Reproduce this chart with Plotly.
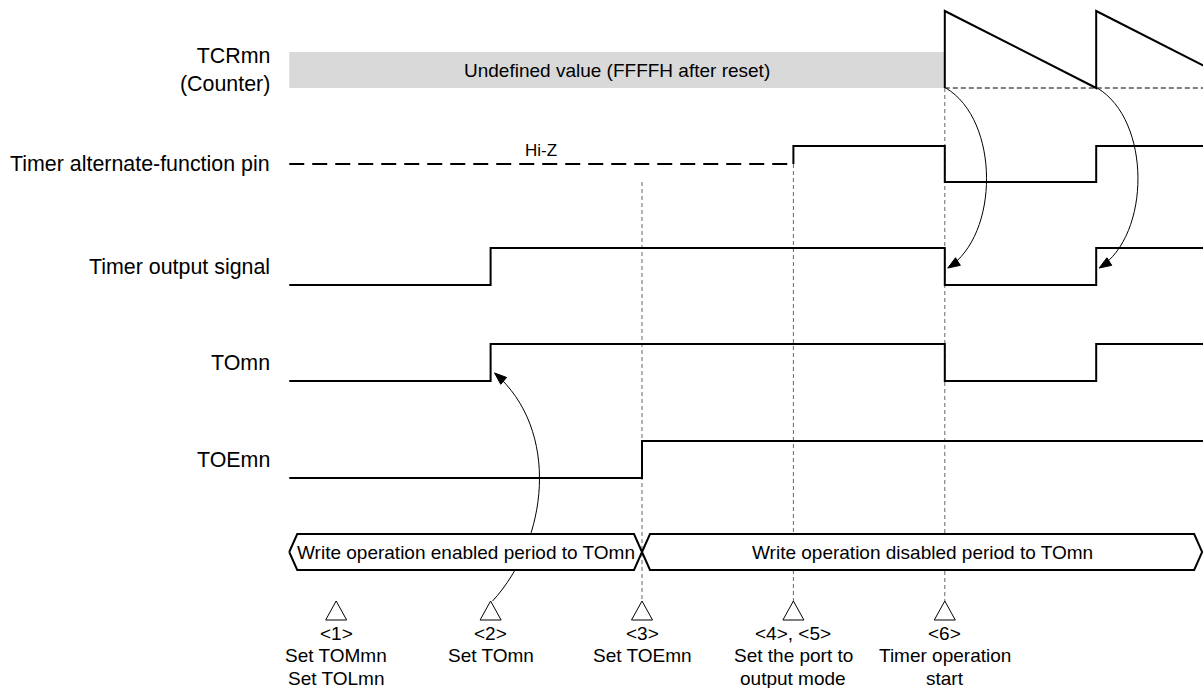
import plotly.graph_objects as go

# ---------------- data (time axis in event units) ----------------
T_START = 0.67          # left end of the diagram
T_STOP = 7.0            # signals keep running past the right edge
BUS_END = 6.70

event_t = [0.98, 2, 3, 4, 5]
event_tags = ["<1>", "<2>", "<3>", "<4>, <5>", "<6>"]
event_text = [["Set TOMmn", "Set TOLmn"], ["Set TOmn"], ["Set TOEmn"],
              ["Set the port to", "output mode"], ["Timer operation", "start"]]

signal_names = ["TCRmn<br>(Counter)", "Timer alternate-function pin",
                "Timer output signal", "TOmn", "TOEmn"]

counter_undefined_text = "Undefined value (FFFFH after reset)"
counter_start = 5
counter_t = [5, 5, 6, 6, 7]
counter_v = [0, 1, 0, 1, 0]          # normalised count value

altpin_t = [T_START, 4, 5, 6, T_STOP]
altpin_state = ["Z", "H", "L", "H", "H"]
hiz_text = "Hi-Z"

timer_out_t = [T_START, 2, 5, 6, T_STOP]
timer_out_v = [0, 1, 0, 1, 1]

tomn_t = [T_START, 2, 5, 6, T_STOP]
tomn_v = [0, 1, 0, 1, 1]

toemn_t = [T_START, 3, T_STOP]
toemn_v = [0, 1, 1]

bus_text = ["Write operation enabled period to TOmn",
            "Write operation disabled period to TOmn"]
bus_t = [T_START, 3, BUS_END]

guide_events = [3, 4, 5]
reload_events = [5, 6]

# ---------------- layout constants ----------------
W, H = 1203, 688
X0, X1 = -1.2404, 6.7054
S = W / (X1 - X0)                    # pixels per time unit


def dx(px):
    return px / S


FONT = "Liberation Sans, Arial, sans-serif"
FS = 19
CNT_TOP, CNT_BASE, BAND_TOP = 11, 88, 52
PIN_HI, PIN_LO, PIN_Z = 146, 182, 164
OUT_HI, OUT_LO = 248, 285
TOM_HI, TOM_LO = 344, 381
TOE_HI, TOE_LO = 441, 478
BUS_TOP, BUS_BOT = 534, 570
TRI_APEX, TRI_BASE = 601, 620
LABEL_Y0, LABEL_DY = 633, 22.5
LANE_MID = [(BAND_TOP + CNT_BASE) / 2, PIN_Z, (OUT_HI + OUT_LO) / 2,
            (TOM_HI + TOM_LO) / 2, (TOE_HI + TOE_LO) / 2]


def esc(s):
    return s.replace("<", "&lt;").replace(">", "&gt;")


fig = go.Figure()
shapes = []
annotations = []
BLK = dict(color="black", width=2)

# counter: undefined band + sawtooth + baseline
shapes.append(dict(type="rect", xref="x", yref="y", x0=T_START, x1=counter_start,
                   y0=BAND_TOP, y1=CNT_BASE, fillcolor="#d9d9d9",
                   line=dict(width=0), layer="below"))
shapes.append(dict(type="line", xref="x", yref="y", x0=counter_start, x1=T_STOP,
                   y0=CNT_BASE, y1=CNT_BASE,
                   line=dict(color="black", width=1, dash="5px,3px"), layer="below"))
annotations.append(dict(x=(T_START + counter_start) / 2, y=LANE_MID[0], xref="x", yref="y",
                        text=counter_undefined_text, showarrow=False,
                        font=dict(family=FONT, size=FS, color="black")))
fig.add_trace(go.Scatter(x=counter_t,
                         y=[CNT_BASE - v * (CNT_BASE - CNT_TOP) for v in counter_v],
                         mode="lines", line=BLK, hoverinfo="skip"))

# alternate-function pin
lvl = {"H": PIN_HI, "L": PIN_LO, "Z": PIN_Z}
z_end = altpin_t[1]
fig.add_trace(go.Scatter(x=[altpin_t[0], z_end], y=[PIN_Z, PIN_Z], mode="lines",
                         line=dict(color="black", width=2, dash="15px,8px"), hoverinfo="skip"))
fig.add_trace(go.Scatter(x=[z_end] + altpin_t[1:],
                         y=[PIN_Z] + [lvl[s] for s in altpin_state[1:]],
                         mode="lines", line=BLK, line_shape="hv", hoverinfo="skip"))
annotations.append(dict(x=(altpin_t[0] + z_end) / 2, y=PIN_HI + 4, xref="x", yref="y",
                        text=hiz_text, showarrow=False,
                        font=dict(family=FONT, size=17, color="black")))

# digital signals
for ts, vs, hi, lo in [(timer_out_t, timer_out_v, OUT_HI, OUT_LO),
                       (tomn_t, tomn_v, TOM_HI, TOM_LO),
                       (toemn_t, toemn_v, TOE_HI, TOE_LO)]:
    fig.add_trace(go.Scatter(x=ts, y=[lo - v * (lo - hi) for v in vs], mode="lines",
                             line=BLK, line_shape="hv", hoverinfo="skip"))

# guide lines
guide_top = {3: PIN_LO, 4: PIN_Z, 5: CNT_BASE}
for t in guide_events:
    shapes.append(dict(type="line", xref="x", yref="y", x0=t, x1=t,
                       y0=guide_top[t], y1=TRI_APEX,
                       line=dict(color="#666666", width=1, dash="4px,3px"), layer="below"))


# curved arrows
def curve(t, p):
    pts = [(t + dx(a), b) for a, b in p]
    d = "M {},{} C {},{} {},{} {},{}".format(*[c for pt in pts for c in pt])
    shapes.append(dict(type="path", xref="x", yref="y", path=d,
                       line=dict(color="black", width=1), layer="below"))
    (px2, py2), (px3, py3) = p[2], p[3]
    vx, vy = px3 - px2, py3 - py2
    n = (vx * vx + vy * vy) ** 0.5
    ux, uy = vx / n, vy / n
    L, Wd = 12, 4.5
    bx, by = px3 - ux * L, py3 - uy * L
    c1 = (bx - uy * Wd, by + ux * Wd)
    c2 = (bx + uy * Wd, by - ux * Wd)
    d2 = "M {},{} L {},{} L {},{} Z".format(t + dx(px3), py3, t + dx(c1[0]), c1[1],
                                             t + dx(c2[0]), c2[1])
    shapes.append(dict(type="path", xref="x", yref="y", path=d2, fillcolor="black",
                       line=dict(color="black", width=1), layer="below"))


curve(tomn_t[1], [(2, TRI_APEX), (58, 540), (70, 430), (4, TOM_LO - 8)])
for t in reload_events:
    curve(t, [(1, CNT_BASE), (55, 120), (55, 235), (3, OUT_LO - 17)])

# bus (write period)
SL = dx(8)
BUS_MID = (BUS_TOP + BUS_BOT) / 2
for i, txt in enumerate(bus_text):
    a, b = bus_t[i], bus_t[i + 1]
    xs = [a, a + SL, b - SL, b, b - SL, a + SL, a]
    ys = [BUS_MID, BUS_TOP, BUS_TOP, BUS_MID, BUS_BOT, BUS_BOT, BUS_MID]
    fig.add_trace(go.Scatter(x=xs, y=ys, mode="lines", fill="toself", fillcolor="white",
                             line=dict(color="black", width=2), hoverinfo="skip"))
    annotations.append(dict(x=(a + b) / 2, y=BUS_MID, xref="x", yref="y", text=txt,
                            showarrow=False, font=dict(family=FONT, size=FS, color="black")))

# event markers and labels
for t, tag, lines in zip(event_t, event_tags, event_text):
    hw = dx(10.5)
    shapes.append(dict(type="path", xref="x", yref="y",
                       path="M {},{} L {},{} L {},{} Z".format(t - hw, TRI_BASE, t + hw, TRI_BASE,
                                                            t, TRI_APEX),
                       fillcolor="white", line=dict(color="black", width=1), layer="above"))
    for k, ln in enumerate([esc(tag)] + lines):
        annotations.append(dict(x=t, y=LABEL_Y0 + k * LABEL_DY, xref="x", yref="y",
                                text=ln, showarrow=False,
                                font=dict(family=FONT, size=FS, color="black")))

# signal names
for name, ym in zip(signal_names, LANE_MID):
    annotations.append(dict(x=T_START, y=ym, xref="x", yref="y", xanchor="right",
                            xshift=-17, text=name, showarrow=False, align="right",
                            font=dict(family=FONT, size=21.4, color="black")))

fig.update_layout(
    width=W, height=H, margin=dict(l=0, r=0, t=0, b=0),
    paper_bgcolor="white", plot_bgcolor="white", showlegend=False,
    xaxis=dict(range=[X0, X1], visible=False, fixedrange=True),
    yaxis=dict(range=[H, 0], visible=False, fixedrange=True),
    shapes=shapes, annotations=annotations,
)
fig.write_html("out.html", config={"displayModeBar": False},
               post_script="document.body.style.margin='0px';")
